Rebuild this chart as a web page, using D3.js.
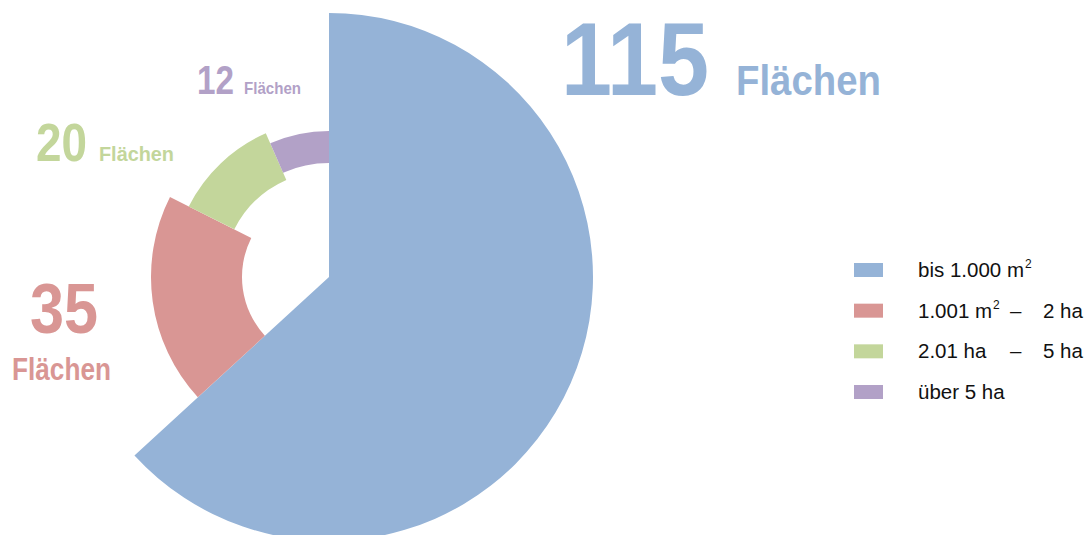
<!DOCTYPE html>
<html>
<head>
<meta charset="utf-8">
<script src="https://cdn.jsdelivr.net/npm/d3@7"></script>
<style>
  html, body { margin: 0; padding: 0; background: #fff; }
  svg { display: block; }
</style>
</head>
<body>
<svg id="chart" width="1089" height="535"></svg>
<script>
// Flächen nach Größenklasse
const categories = ["bis 1.000 m²", "1.001 m² – 2 ha", "2.01 ha – 5 ha", "über 5 ha"];
const counts = [115, 35, 20, 12];
const unitLabel = "Flächen";

// Colours and ring radii per slice
const colors = ["#95b3d7", "#d99694", "#c3d69b", "#b2a1c7"];
const rings = [
  { inner: 0,   outer: 264 },
  { inner: 87,  outer: 178 },
  { inner: 106, outer: 157 },
  { inner: 114, outer: 146 }
];

const svg = d3.select("#chart");
const cx = 329, cy = 277;

const pie = d3.pie().sort(null).value(d => d);
const arcs = pie(counts);

const g = svg.append("g").attr("transform", `translate(${cx},${cy})`);
g.selectAll("path")
  .data(arcs)
  .join("path")
  .attr("fill", (d, i) => colors[i])
  .attr("d", (d, i) => d3.arc()
    .innerRadius(rings[i].inner)
    .outerRadius(rings[i].outer)(d));

// Value labels: big number plus unit word
const labelLayout = [
  { nx: 561, ny: 95,  ns: 104, nw: 148, ux: 736, uy: 95,  us: 42, uw: 145 },
  { nx: 30,  ny: 333, ns: 71,  nw: 68,  ux: 12,  uy: 380, us: 32, uw: 99 },
  { nx: 36,  ny: 161, ns: 53,  nw: 51,  ux: 99,  uy: 161, us: 20, uw: 75 },
  { nx: 197, ny: 94,  ns: 41,  nw: 37,  ux: 244, uy: 94,  us: 17, uw: 57 }
];
const font = "'Liberation Sans', Arial, sans-serif";

const lab = svg.append("g").attr("font-family", font).attr("font-weight", "bold");
counts.forEach((v, i) => {
  const L = labelLayout[i];
  lab.append("text")
    .attr("x", L.nx).attr("y", L.ny)
    .attr("font-size", L.ns)
    .attr("textLength", L.nw).attr("lengthAdjust", "spacingAndGlyphs")
    .attr("fill", colors[i])
    .text(v);
  lab.append("text")
    .attr("x", L.ux).attr("y", L.uy)
    .attr("font-size", L.us)
    .attr("textLength", L.uw).attr("lengthAdjust", "spacingAndGlyphs")
    .attr("fill", colors[i])
    .text(unitLabel);
});

// Legend
const legend = svg.append("g").attr("font-family", font).attr("font-size", 20.5).attr("fill", "#111");
const rowY = d3.scalePoint().domain(d3.range(categories.length)).range([277, 399]);
const colX = [918, 1010, 1043];

categories.forEach((c, i) => {
  const y = rowY(i);
  legend.append("rect")
    .attr("x", 854).attr("y", y - 14)
    .attr("width", 29).attr("height", 14)
    .attr("fill", colors[i]);
  const parts = c.split(" – ");
  const cols = parts.length > 1 ? [parts[0], "–", parts[1]] : [parts[0]];
  cols.forEach((p, j) => {
    const t = legend.append("text").attr("x", colX[j]).attr("y", y);
    const bits = p.split("²");
    bits.forEach((b, k) => {
      if (b) t.append("tspan").text(b);
      if (k < bits.length - 1) {
        t.append("tspan").attr("font-size", 12).attr("dx", 1).attr("dy", -9).text("2");
        t.append("tspan").attr("dy", 9).text("");
      }
    });
  });
});
</script>
</body>
</html>
